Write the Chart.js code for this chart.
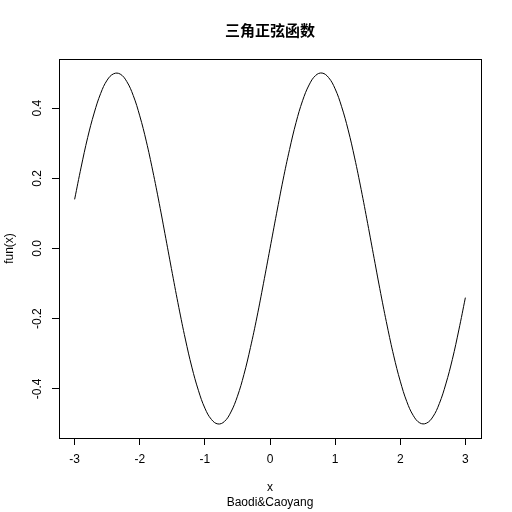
<!DOCTYPE html>
<html>
<head>
<meta charset="utf-8">
<script src="https://cdn.jsdelivr.net/npm/chart.js@4/dist/chart.umd.min.js"></script>
<style>
html,body{margin:0;padding:0;background:#fff;}
#wrap{width:512px;height:512px;}
</style>
</head>
<body>
<div id="wrap"><canvas id="c" width="512" height="512"></canvas></div>
<script>
const xValues = [-3.0,-2.9,-2.8,-2.7,-2.6,-2.5,-2.4,-2.3,-2.2,-2.1,-2.0,-1.9,-1.8,-1.7,-1.6,-1.5,-1.4,-1.3,-1.2,-1.1,-1.0,-0.9,-0.8,-0.7,-0.6,-0.5,-0.4,-0.3,-0.2,-0.1,0.0,0.1,0.2,0.3,0.4,0.5,0.6,0.7,0.8,0.9,1.0,1.1,1.2,1.3,1.4,1.5,1.6,1.7,1.8,1.9,2.0,2.1,2.2,2.3,2.4,2.5,2.6,2.7,2.8,2.9,3.0];
const funValues = [0.140,0.232,0.316,0.386,0.442,0.480,0.498,0.497,0.476,0.436,0.378,0.306,0.221,0.128,0.029,-0.071,-0.168,-0.258,-0.338,-0.404,-0.455,-0.487,-0.500,-0.493,-0.466,-0.421,-0.359,-0.282,-0.195,-0.099,0.000,0.099,0.195,0.282,0.359,0.421,0.466,0.493,0.500,0.487,0.455,0.404,0.338,0.258,0.168,0.071,-0.029,-0.128,-0.221,-0.306,-0.378,-0.436,-0.476,-0.497,-0.498,-0.480,-0.442,-0.386,-0.316,-0.232,-0.140];
const xTicks = [-3,-2,-1,0,1,2,3];
const yTicks = [-0.4,-0.2,0.0,0.2,0.4];
const xTickLabels = ['-3','-2','-1','0','1','2','3'];
const yTickLabels = ['-0.4','-0.2','0.0','0.2','0.4'];
const titleText = '三角正弦函数';
const xTitle = 'x';
const yTitle = 'fun(x)';
const subTitle = 'Baodi&Caoyang';

const FONT = '"Liberation Sans", Arial, sans-serif';

const textPlugin = {
  id: 'rtext',
  afterDraw(chart) {
    const ctx = chart.ctx;
    const a = chart.chartArea;
    const xs = chart.scales.x, ys = chart.scales.y;
    ctx.save();
    // box
    ctx.strokeStyle = '#000';
    ctx.lineWidth = 1;
    ctx.strokeRect(Math.round(a.left) + 0.5, Math.round(a.top) + 0.5, Math.round(a.right - a.left), Math.round(a.bottom - a.top));
    ctx.fillStyle = '#000';
    // x tick labels
    ctx.font = '12px ' + FONT;
    ctx.textAlign = 'center';
    ctx.textBaseline = 'middle';
    xTicks.forEach((v, i) => {
      ctx.fillText(xTickLabels[i], xs.getPixelForValue(v), 460);
    });
    // y tick labels (rotated)
    yTicks.forEach((v, i) => {
      ctx.save();
      ctx.translate(38, ys.getPixelForValue(v));
      ctx.rotate(-Math.PI / 2);
      ctx.fillText(yTickLabels[i], 0, 0);
      ctx.restore();
    });
    const cx = (a.left + a.right) / 2;
    const cy = (a.top + a.bottom) / 2;
    // axis titles
    ctx.fillText(xTitle, cx, 488);
    ctx.fillText(subTitle, cx, 503);
    ctx.save();
    ctx.translate(10, cy);
    ctx.rotate(-Math.PI / 2);
    ctx.fillText(yTitle, 0, 0);
    ctx.restore();
    // main title
    ctx.font = 'bold 15px "Noto Sans CJK SC", sans-serif';
    ctx.fillText(titleText, cx, 30);
    ctx.restore();
  }
};

new Chart(document.getElementById('c'), {
  type: 'line',
  data: {
    datasets: [{
      data: xValues.map((x, i) => ({x: x, y: funValues[i]})),
      borderColor: '#000',
      borderWidth: 1,
      pointRadius: 0,
      tension: 0.4,
      fill: false
    }]
  },
  options: {
    responsive: false,
    animation: false,
    devicePixelRatio: 1,
    layout: { padding: { left: 0, right: 31, top: 59, bottom: 0 } },
    plugins: { legend: { display: false }, tooltip: { enabled: false }, title: { display: false } },
    scales: {
      x: {
        type: 'linear',
        min: -3.24, max: 3.24,
        afterBuildTicks(s) { s.ticks = xTicks.map(v => ({value: v})); },
        afterFit(s) { s.height = 74; },
        ticks: { display: false },
        grid: { display: true, drawOnChartArea: false, drawTicks: true, tickLength: 7, color: '#000', tickColor: '#000', lineWidth: 1 },
        border: { display: false }
      },
      y: {
        type: 'linear',
        min: -0.54, max: 0.54,
        afterBuildTicks(s) { s.ticks = yTicks.map(v => ({value: v})); },
        afterFit(s) { s.width = 59; },
        ticks: { display: false },
        grid: { display: true, drawOnChartArea: false, drawTicks: true, tickLength: 7, color: '#000', tickColor: '#000', lineWidth: 1 },
        border: { display: false }
      }
    }
  },
  plugins: [textPlugin]
});
</script>
</body>
</html>
